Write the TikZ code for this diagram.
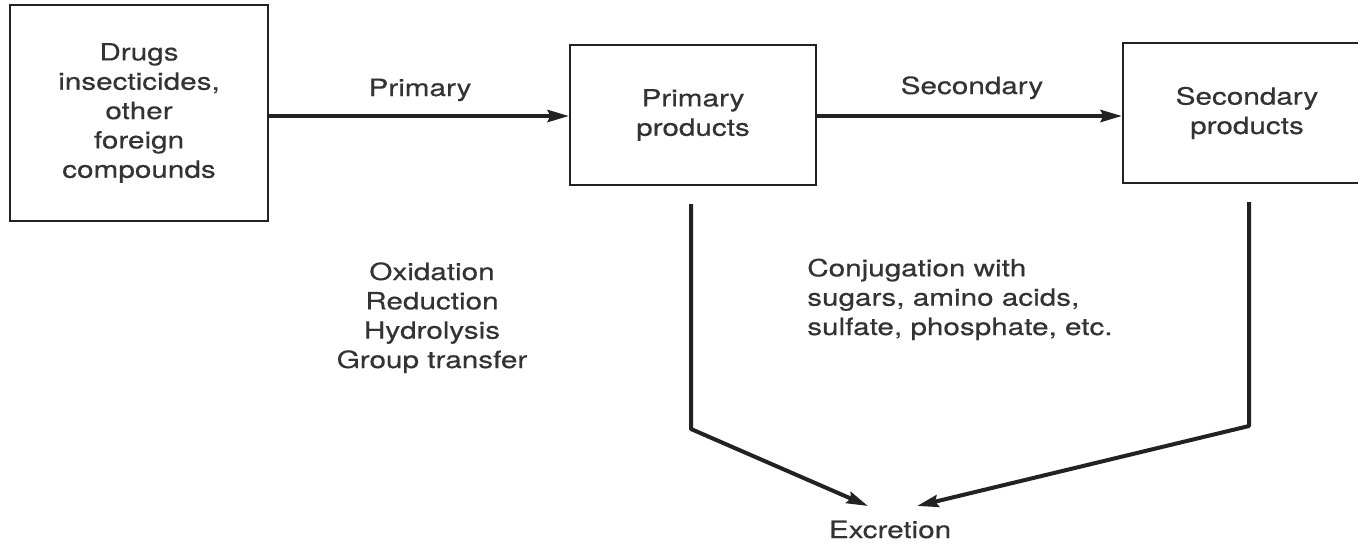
\documentclass[tikz,border=0pt]{standalone}
\usepackage{fontspec}
\setmainfont{TeX Gyre Heros}[FakeStretch=1.25,FakeBold=0.4]
\usetikzlibrary{arrows.meta}
\definecolor{ink}{HTML}{222222}
\definecolor{txt}{HTML}{333333}
\begin{document}
\begin{tikzpicture}[x=0.75pt,y=-0.75pt,
  every node/.style={text=txt,font=\fontsize{17.8}{22}\selectfont,align=center,inner sep=0pt},
  boxnode/.style={draw=ink,line width=1.5pt,fill=white},
  arr/.style={draw=ink,line width=3pt,-{Stealth[length=16pt,width=9pt,inset=2pt]}},
  lbl/.style={anchor=base}]
\path[use as bounding box] (0,0) rectangle (1358,544);
\clip (0,0) rectangle (1358,544);
\node[boxnode,minimum width=193.5pt,minimum height=162pt] (b1) at (139,113)
  {Drugs\\insecticides,\\other\\foreign\\compounds};
\node[boxnode,minimum width=184.5pt,minimum height=105pt] (b2) at (693,115)
  {Primary\\products};
\node[boxnode,minimum width=186pt,minimum height=105pt] (b3) at (1247,113)
  {Secondary\\products};
\node[lbl] (lp) at (420,96) {Primary};
\node[lbl] (ls) at (972,94) {Secondary};
\node[anchor=base,align=center] (ox) at (432,368)
  {Oxidation\\Reduction\\Hydrolysis\\Group transfer};
\node[anchor=base west,align=left] (cj) at (807,335)
  {Conjugation with\\sugars, amino acids,\\sulfate, phosphate, etc.};
\node[lbl] (ex) at (890,538) {Excretion};
\draw[arr] (b1.east |- 0,116) -- (b2.west |- 0,116);
\draw[arr] (b2.east |- 0,116) -- (b3.west |- 0,116);
\coordinate (v1t) at (691,204);
\coordinate (v1b) at (691,429);
\coordinate (t1) at (868,506);
\coordinate (v2t) at (1249,202);
\coordinate (v2b) at (1249,426);
\coordinate (t2) at (917,506);
\draw[arr,line join=round] (v1t) -- (v1b) -- (t1);
\draw[arr,line join=round] (v2t) -- (v2b) -- (t2);
\end{tikzpicture}
\end{document}
